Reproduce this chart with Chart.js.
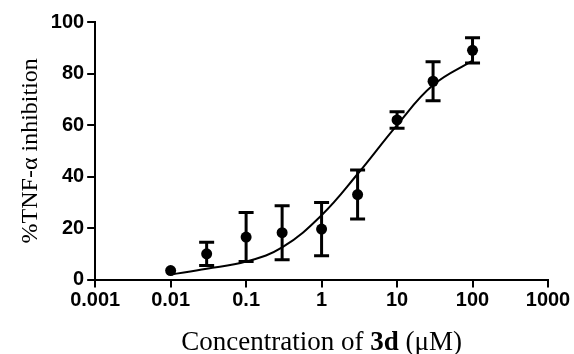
<!DOCTYPE html>
<html><head><meta charset="utf-8">
<script src="https://cdn.jsdelivr.net/npm/chart.js@4/dist/chart.umd.min.js"></script>
<style>html,body{margin:0;padding:0;background:#fff}#wrap{width:574px;height:354px;position:relative}</style>
</head><body><div id="wrap"><canvas id="c"></canvas></div>
<script>
// Measured data (concentration in µM, mean % inhibition, error)
const concentrations = [0.01, 0.03, 0.1, 0.3, 1, 3, 10, 30, 100];
const inhibition = [3.5, 10, 16.5, 18.2, 19.6, 33, 62, 77, 89];
const errors = [0, 4.5, 9.5, 10.5, 10.3, 9.5, 3.2, 7.6, 4.9];
// Fitted curve
const fitX = [0.01, 0.03, 0.1, 0.3, 1, 3, 10, 30, 100];
const fitY = [2, 4.2, 7, 12.5, 25, 41, 60, 75.5, 85];
// Axis ticks
const xTickValues = [0.001, 0.01, 0.1, 1, 10, 100, 1000];
const xTickLabels = ['0.001', '0.01', '0.1', '1', '10', '100', '1000'];
const yTickValues = [0, 20, 40, 60, 80, 100];

const tickFont = {family: 'Liberation Sans', weight: 'bold', size: 20};
const serif = 'Liberation Serif';
const xTitleSize = 27;

const errorBars = {
  id: 'errorBars',
  afterDatasetsDraw(chart) {
    const xs = chart.scales.x, ys = chart.scales.y, ctx = chart.ctx;
    ctx.save();
    ctx.strokeStyle = '#000';
    ctx.lineWidth = 3;
    concentrations.forEach((c, i) => {
      if (!errors[i]) return;
      const px = xs.getPixelForValue(c);
      const top = ys.getPixelForValue(inhibition[i] + errors[i]);
      const bot = ys.getPixelForValue(inhibition[i] - errors[i]);
      const w = 7.5;
      ctx.beginPath();
      ctx.moveTo(px, top); ctx.lineTo(px, bot);
      ctx.moveTo(px - w, top); ctx.lineTo(px + w, top);
      ctx.moveTo(px - w, bot); ctx.lineTo(px + w, bot);
      ctx.stroke();
    });
    ctx.restore();
  }
};

const xTitle = {
  id: 'xTitle',
  afterDraw(chart) {
    const ctx = chart.ctx, xs = chart.scales.x, area = chart.chartArea;
    const parts = [
      {t: 'Concentration of ', f: `${xTitleSize}px "${serif}"`},
      {t: '3d', f: `bold ${xTitleSize}px "${serif}"`},
      {t: ' (μM)', f: `${xTitleSize}px "${serif}"`}
    ];
    ctx.save();
    let total = 0;
    parts.forEach(p => { ctx.font = p.f; p.w = ctx.measureText(p.t).width; total += p.w; });
    let x = (area.left + area.right) / 2 - total / 2;
    const y = xs.bottom - 4;
    ctx.fillStyle = '#000';
    ctx.textBaseline = 'alphabetic';
    parts.forEach(p => { ctx.font = p.f; ctx.fillText(p.t, x, y); x += p.w; });
    ctx.restore();
  }
};

new Chart(document.getElementById('c'), {
  type: 'scatter',
  data: {
    datasets: [
      {
        data: fitX.map((x, i) => ({x, y: fitY[i]})),
        showLine: true, borderColor: '#000', borderWidth: 2,
        pointRadius: 0, tension: 0.4, fill: false
      },
      {
        data: concentrations.map((x, i) => ({x, y: inhibition[i]})),
        showLine: false, pointRadius: 5.5, pointBackgroundColor: '#000',
        pointBorderColor: '#000', pointBorderWidth: 0
      }
    ]
  },
  options: {
    responsive: true, maintainAspectRatio: false, animation: false,
    layout: {padding: {left: 11, right: 26, top: 22, bottom: 0}},
    plugins: {legend: {display: false}, tooltip: {enabled: false}},
    scales: {
      x: {
        type: 'logarithmic', min: 0.001, max: 1000,
        afterBuildTicks: s => { s.ticks = xTickValues.map(v => ({value: v})); },
        ticks: {
          callback: v => xTickLabels[xTickValues.indexOf(v)] ?? '',
          color: '#000', font: tickFont, maxRotation: 0, autoSkip: false, padding: 1
        },
        grid: {display: true, drawOnChartArea: false, drawTicks: true, tickLength: 8, color: '#000', lineWidth: 2},
        border: {display: true, color: '#000', width: 2},
        title: {display: true, text: 'Concentration of 3d (μM)', color: 'rgba(0,0,0,0)',
          font: {family: serif, size: xTitleSize}, padding: {top: 8, bottom: 0}}
      },
      y: {
        min: 0, max: 100,
        afterBuildTicks: s => { s.ticks = yTickValues.map(v => ({value: v})); },
        ticks: {color: '#000', font: tickFont, padding: 3},
        grid: {display: true, drawOnChartArea: false, drawTicks: true, tickLength: 8, color: '#000', lineWidth: 2},
        border: {display: true, color: '#000', width: 2},
        title: {display: true, text: '%TNF-α inhibition', color: '#000',
          font: {family: serif, size: 24}, padding: {top: 5, bottom: 3}}
      }
    }
  },
  plugins: [errorBars, xTitle]
});
</script>
</body></html>
